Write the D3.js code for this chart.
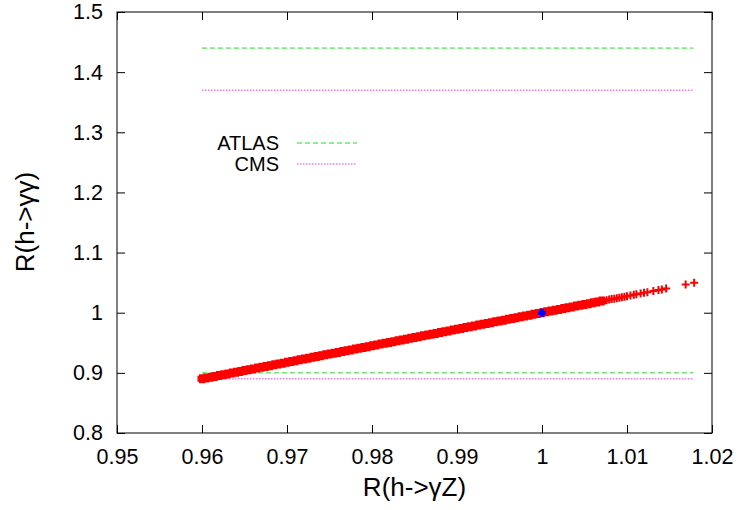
<!DOCTYPE html>
<html>
<head>
<meta charset="utf-8">
<script src="https://cdn.jsdelivr.net/npm/d3@7"></script>
<style>
  body { margin: 0; background: #fff; }
  text { font-family: "Liberation Sans", Arial, sans-serif; }
</style>
</head>
<body>
<div id="chart"></div>
<script>
// dense part of the scan: R(h->gammaZ) and R(h->gammagamma)
const scanX = [
  0.9600, 0.9605, 0.9610, 0.9615, 0.9620, 0.9625, 0.9630, 0.9635, 0.9640, 0.9645,
  0.9650, 0.9655, 0.9660, 0.9665, 0.9670, 0.9675, 0.9680, 0.9685, 0.9690, 0.9695,
  0.9700, 0.9705, 0.9710, 0.9715, 0.9720, 0.9725, 0.9730, 0.9735, 0.9740, 0.9745,
  0.9750, 0.9755, 0.9760, 0.9765, 0.9770, 0.9775, 0.9780, 0.9785, 0.9790, 0.9795,
  0.9800, 0.9805, 0.9810, 0.9815, 0.9820, 0.9825, 0.9830, 0.9835, 0.9840, 0.9845,
  0.9850, 0.9855, 0.9860, 0.9865, 0.9870, 0.9875, 0.9880, 0.9885, 0.9890, 0.9895,
  0.9900, 0.9905, 0.9910, 0.9915, 0.9920, 0.9925, 0.9930, 0.9935, 0.9940, 0.9945,
  0.9950, 0.9955, 0.9960, 0.9965, 0.9970, 0.9975, 0.9980, 0.9985, 0.9990, 0.9995,
  1.0000, 1.0005, 1.0010, 1.0015, 1.0020, 1.0025, 1.0030, 1.0035, 1.0040, 1.0045,
  1.0050, 1.0055, 1.0060, 1.0065, 1.0070
];
const scanY = [
  0.8900, 0.8914, 0.8928, 0.8941, 0.8955, 0.8969, 0.8983, 0.8996, 0.9010, 0.9024,
  0.9038, 0.9051, 0.9065, 0.9079, 0.9093, 0.9106, 0.9120, 0.9134, 0.9148, 0.9161,
  0.9175, 0.9189, 0.9203, 0.9216, 0.9230, 0.9244, 0.9258, 0.9271, 0.9285, 0.9299,
  0.9313, 0.9326, 0.9340, 0.9354, 0.9368, 0.9381, 0.9395, 0.9409, 0.9423, 0.9436,
  0.9450, 0.9464, 0.9478, 0.9491, 0.9505, 0.9519, 0.9533, 0.9546, 0.9560, 0.9574,
  0.9588, 0.9601, 0.9615, 0.9629, 0.9643, 0.9656, 0.9670, 0.9684, 0.9698, 0.9711,
  0.9725, 0.9739, 0.9753, 0.9766, 0.9780, 0.9794, 0.9808, 0.9821, 0.9835, 0.9849,
  0.9863, 0.9876, 0.9890, 0.9904, 0.9918, 0.9931, 0.9945, 0.9959, 0.9973, 0.9986,
  1.0000, 1.0014, 1.0028, 1.0041, 1.0055, 1.0069, 1.0083, 1.0096, 1.0110, 1.0124,
  1.0138, 1.0151, 1.0165, 1.0179, 1.0193
];
// sparser tail of the scan
const tailX = [1.0073, 1.0076, 1.0079, 1.0082, 1.0085, 1.0088, 1.0091, 1.0094, 1.0097,
  1.0100, 1.0104, 1.0108, 1.0111, 1.0116, 1.0120, 1.0124, 1.0131, 1.0137, 1.0141, 1.0146,
  1.0169, 1.0179];
const tailY = [1.0201, 1.0209, 1.0218, 1.0226, 1.0234, 1.0242, 1.0250, 1.0259, 1.0267,
  1.0275, 1.0286, 1.0297, 1.0305, 1.0319, 1.0330, 1.0341, 1.0360, 1.0377, 1.0388, 1.0402,
  1.0470, 1.0500];
// SM point
const smX = [1.0];
const smY = [1.0];

// experimental bounds (drawn over the scan range)
const boundNames = ["ATLAS", "CMS"];
const boundLow = [0.90, 0.89];
const boundHigh = [1.44, 1.37];
const boundRange = [0.96, 1.0178];

const xTicks = [0.95, 0.96, 0.97, 0.98, 0.99, 1.0, 1.01, 1.02];
const yTicks = [0.8, 0.9, 1.0, 1.1, 1.2, 1.3, 1.4, 1.5];

// layout
const W = 740, H = 510;
const margin = {top: 12, right: 28, bottom: 77, left: 117};
const width = W - margin.left - margin.right;
const height = H - margin.top - margin.bottom;

const svg = d3.select("#chart").append("svg")
    .attr("width", W).attr("height", H);
const g = svg.append("g")
    .attr("transform", `translate(${margin.left},${margin.top})`);

const x = d3.scaleLinear().domain([0.95, 1.02]).range([0, width]);
const y = d3.scaleLinear().domain([0.8, 1.5]).range([height, 0]);

const styles = {
  ATLAS: {color: "#22dd22", dash: "5,3"},
  CMS: {color: "#ee33ee", dash: "1.5,1.5"}
};

// bound lines
boundNames.forEach((name, i) => {
  [boundLow[i], boundHigh[i]].forEach(v => {
    g.append("line")
      .attr("x1", x(boundRange[0])).attr("x2", x(boundRange[1]))
      .attr("y1", y(v)).attr("y2", y(v))
      .attr("stroke", styles[name].color)
      .attr("stroke-width", 1)
      .attr("stroke-dasharray", styles[name].dash);
  });
});

// plus markers
const plus = (sel, xs, ys, color, r, sw) => {
  const pts = xs.map((v, i) => [v, ys[i]]);
  sel.selectAll(null).data(pts).enter().append("path")
    .attr("d", d => {
      const px = x(d[0]), py = y(d[1]);
      return `M${px - r},${py}H${px + r}M${px},${py - r}V${py + r}`;
    })
    .attr("stroke", color)
    .attr("stroke-width", sw)
    .attr("fill", "none");
};
plus(g.append("g"), scanX, scanY, "#ff0000", 4.5, 6);
plus(g.append("g"), tailX, tailY, "#ff0000", 4, 2);
plus(g.append("g"), smX, smY, "#0000ff", 4, 4);

// frame and ticks (gnuplot style, inward, mirrored)
g.append("rect")
  .attr("width", width).attr("height", height)
  .attr("fill", "none").attr("stroke", "#000").attr("stroke-width", 1);

const tk = 8;
const xb = g.append("g").attr("transform", `translate(0,${height})`)
  .call(d3.axisBottom(x).tickValues(xTicks).tickSizeInner(-tk).tickSizeOuter(0).tickPadding(16)
    .tickFormat(d => d3.format("")(+d.toFixed(2))));
const xt = g.append("g")
  .call(d3.axisTop(x).tickValues(xTicks).tickSizeInner(-tk).tickSizeOuter(0).tickFormat(""));
const yl = g.append("g")
  .call(d3.axisLeft(y).tickValues(yTicks).tickSizeInner(-tk).tickSizeOuter(0).tickPadding(14)
    .tickFormat(d => d3.format("")(+d.toFixed(1))));
const yr = g.append("g").attr("transform", `translate(${width},0)`)
  .call(d3.axisRight(y).tickValues(yTicks).tickSizeInner(-tk).tickSizeOuter(0).tickFormat(""));
[xb, xt, yl, yr].forEach(a => {
  a.select(".domain").remove();
  a.selectAll("line").attr("stroke", "#000");
  a.selectAll("text").attr("font-size", 21.5).attr("fill", "#000")
    .style("font-family", "'Liberation Sans', Arial, sans-serif");
});

// axis titles
svg.append("text")
  .attr("x", margin.left + width / 2).attr("y", 496)
  .attr("text-anchor", "middle").attr("font-size", 26)
  .text("R(h->γZ)");
svg.append("text")
  .attr("transform", `translate(34,222) rotate(-90)`)
  .attr("text-anchor", "middle").attr("font-size", 26)
  .text("R(h->γγ)");

// legend
const legend = g.append("g");
boundNames.forEach((name, i) => {
  const ly = 131 + i * 21;
  legend.append("text")
    .attr("x", 279 - margin.left).attr("y", ly).attr("dy", "0.35em")
    .attr("text-anchor", "end").attr("font-size", 20)
    .text(name);
  legend.append("line")
    .attr("x1", 297 - margin.left).attr("x2", 357 - margin.left)
    .attr("y1", ly).attr("y2", ly)
    .attr("stroke", styles[name].color)
    .attr("stroke-dasharray", styles[name].dash);
});
</script>
</body>
</html>
